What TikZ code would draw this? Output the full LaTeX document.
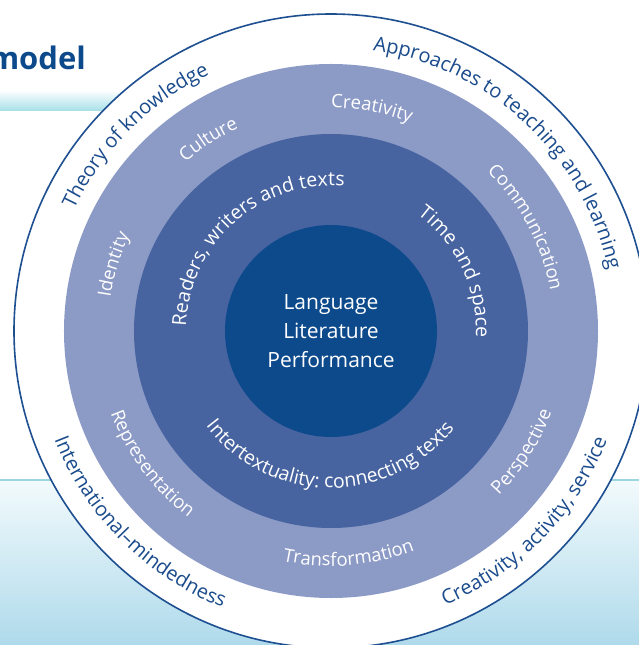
\documentclass[tikz,border=0pt]{standalone}
\usepackage{fontspec}
\setmainfont{Open Sans}
\usetikzlibrary{decorations.text}
\definecolor{ringline}{HTML}{1D4F91}
\definecolor{lightring}{HTML}{8C9AC6}
\definecolor{midring}{HTML}{4764A1}
\definecolor{innerblue}{HTML}{0D4A8C}
\definecolor{outtext}{HTML}{1A4B8C}
\definecolor{bandcyan}{HTML}{A6DFE8}
\definecolor{bgtop}{HTML}{F2FAFC}
\definecolor{bgbot}{HTML}{AFDAEB}
\definecolor{cyanline}{HTML}{9AD7E2}
\newcommand\outfont{\color{outtext}\fontsize{20}{24}\selectfont}
\newcommand\lightfont{\color{white}\fontsize{18.5}{22}\selectfont}
\newcommand\midfont{\color{white}\fontsize{19.5}{23}\selectfont}
% clockwise arc text (letters point outward): angle, baseline radius, text
\newcommand\cwtext[3]{\path[decorate,decoration={text along path,text={#3},text align=center}] ({#1+85}:#2pt) arc[start angle={#1+85},end angle={#1-85},radius=#2pt];}
% counter-clockwise arc text (letters point inward)
\newcommand\ccwtext[3]{\path[decorate,decoration={text along path,text={#3},text align=center}] ({#1-85}:#2pt) arc[start angle={#1-85},end angle={#1+85},radius=#2pt];}
\tikzset{
  ring/.style={circle,inner sep=0pt,outer sep=0pt},
}
\begin{document}
\begin{tikzpicture}[x=1pt,y=1pt]
\useasboundingbox (-331,-314) rectangle (308,331);
\fill[white] (-331,-314) rectangle (308,331);
% background decorations
\shade[top color=white,bottom color=bandcyan] (-331,241) rectangle (0,220);
\shade[top color=bgtop,bottom color=bgbot] (-331,-149) rectangle (308,-314);
\draw[cyanline,line width=1.5pt] (-331,-149) -- (308,-149);
\node[anchor=base east,font=\bfseries\fontsize{31}{36}\selectfont,text=innerblue,inner sep=0pt] (title) at (-245,261) {model};
% rings
\node[ring,draw=ringline,line width=1.6pt,fill=white,minimum size=634pt] (outer) at (0,0) {};
\node[ring,fill=lightring,minimum size=534pt] (light) at (0,0) {};
\node[ring,fill=midring,minimum size=394pt] (mid) at (0,0) {};
\node[ring,fill=innerblue,minimum size=212pt,text=white,align=center,font=\fontsize{21}{29}\selectfont] (core) at (0,0) {Language\\Literature\\Performance};
% outer ring texts
\cwtext{135}{284}{|\outfont|Theory of knowledge}
\cwtext{47}{284}{|\outfont|Approaches to teaching and learning}
\ccwtext{225}{297}{|\outfont|International–mindedness}
\ccwtext{315.5}{297}{|\outfont|Creativity, activity, service}
% light ring texts
\cwtext{122.6}{223}{|\lightfont|Culture}
\cwtext{79.6}{223}{|\lightfont|Creativity}
\cwtext{28}{223}{|\lightfont|Communication}
\cwtext{163}{223}{|\lightfont|Identity}
\ccwtext{216.6}{235}{|\lightfont|Representation}
\ccwtext{274.5}{235}{|\lightfont|Transformation}
\ccwtext{327.7}{235}{|\lightfont|Perspective}
% middle ring texts
\cwtext{131.4}{145}{|\midfont|Readers, writers and texts}
\cwtext{25.4}{145}{|\midfont|Time and space}
\ccwtext{269.5}{157}{|\midfont|Intertextuality: connecting texts}
\end{tikzpicture}
\end{document}
